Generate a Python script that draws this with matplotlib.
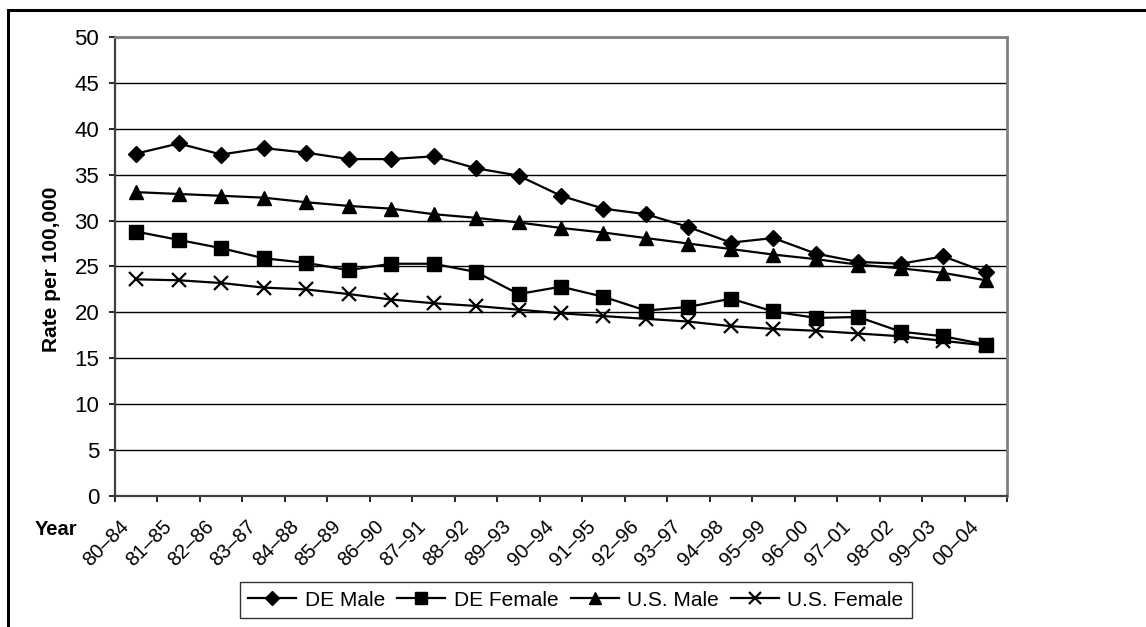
import matplotlib
matplotlib.use("Agg")
import matplotlib.pyplot as plt
from matplotlib.patches import Rectangle
from matplotlib.transforms import ScaledTranslation

plt.rcParams['font.family'] = ['Liberation Sans', 'DejaVu Sans']

periods = ['80–84', '81–85', '82–86', '83–87', '84–88', '85–89', '86–90',
           '87–91', '88–92', '89–93', '90–94', '91–95', '92–96', '93–97',
           '94–98', '95–99', '96–00', '97–01', '98–02', '99–03', '00–04']

de_male = [37.3, 38.4, 37.2, 37.9, 37.4, 36.7, 36.7, 37.0, 35.7, 34.9, 32.7,
           31.3, 30.7, 29.3, 27.6, 28.1, 26.4, 25.5, 25.3, 26.1, 24.4]
de_female = [28.8, 27.9, 27.0, 25.9, 25.4, 24.6, 25.3, 25.3, 24.4, 22.0, 22.8,
             21.7, 20.2, 20.6, 21.5, 20.1, 19.4, 19.5, 17.9, 17.4, 16.5]
us_male = [33.1, 32.9, 32.7, 32.5, 32.0, 31.6, 31.3, 30.7, 30.3, 29.8, 29.2,
           28.7, 28.1, 27.5, 26.9, 26.3, 25.8, 25.2, 24.8, 24.3, 23.5]
us_female = [23.6, 23.5, 23.2, 22.7, 22.5, 22.0, 21.4, 21.0, 20.7, 20.3, 19.9,
             19.6, 19.3, 19.0, 18.5, 18.2, 18.0, 17.7, 17.4, 16.9, 16.4]

W, H = 1146, 627
fig = plt.figure(figsize=(W / 100, H / 100), dpi=100)
ax = fig.add_axes([115 / W, 1 - 496 / H, 892 / W, 459 / H])

x = list(range(len(periods)))
style = dict(color='black', lw=1.6)
ax.plot(x, de_male, marker='D', ms=8, label='DE Male', **style)
ax.plot(x, de_female, marker='s', ms=9.5, label='DE Female', **style)
ax.plot(x, us_male, marker='^', ms=10, label='U.S. Male', **style)
ax.plot(x, us_female, marker='x', ms=10.5, mew=1.6, label='U.S. Female', **style)

ax.set_xlim(-0.5, len(periods) - 0.5)
ax.set_ylim(0, 50)
ax.set_yticks(range(0, 51, 5))
ax.yaxis.grid(True, color='black', lw=1.0)
ax.set_axisbelow(True)

# boundary ticks without labels, category labels at the centres
ax.set_xticks([i - 0.5 for i in range(len(periods) + 1)])
ax.set_xticklabels([])
ax.set_xticks(x, minor=True)
ax.set_xticklabels(periods, minor=True, rotation=45, ha='right',
                   va='top', rotation_mode='anchor', fontsize=14.5)
ax.tick_params(axis='x', which='minor', length=0, pad=15)
ax.tick_params(axis='x', which='major', length=4.3, width=1.2, direction='out')
ax.tick_params(axis='y', length=4.3, width=1.2, direction='out', pad=7,
               labelsize=16)
shift = ScaledTranslation(-17 / 100, 0, fig.dpi_scale_trans)
for lab in ax.get_xticklabels(minor=True):
    lab.set_transform(lab.get_transform() + shift)

for side in ['left', 'bottom']:
    ax.spines[side].set_color('#404040')
    ax.spines[side].set_linewidth(1.6)
for side in ['top', 'right']:
    ax.spines[side].set_color('#808080')
    ax.spines[side].set_linewidth(2.0)

fig.text(52 / W, 1 - 269 / H, 'Rate per 100,000', rotation=90, ha='center',
         va='center', fontsize=15, fontweight='bold')
fig.text(35 / W, 1 - 535 / H, 'Year', ha='left', va='baseline',
         fontsize=14.5, fontweight='bold')

leg = fig.legend(loc='center', bbox_to_anchor=(576 / W, 1 - 600 / H), ncol=4,
                 fontsize=15, frameon=True, fancybox=False, markerscale=0.85,
                 handlelength=2.3, handletextpad=0.4, columnspacing=0.6,
                 borderpad=0.4, borderaxespad=0)
leg.get_frame().set_edgecolor('black')
leg.get_frame().set_linewidth(1.0)

# outer chart border (runs off the right and bottom edges)
fig.patches.append(Rectangle((7.5 / W, -0.1), 1.2, 1.1 - 9.5 / H,
                             transform=fig.transFigure, fill=False,
                             lw=2.2, ec='black'))

fig.savefig('out.png', dpi=100)
